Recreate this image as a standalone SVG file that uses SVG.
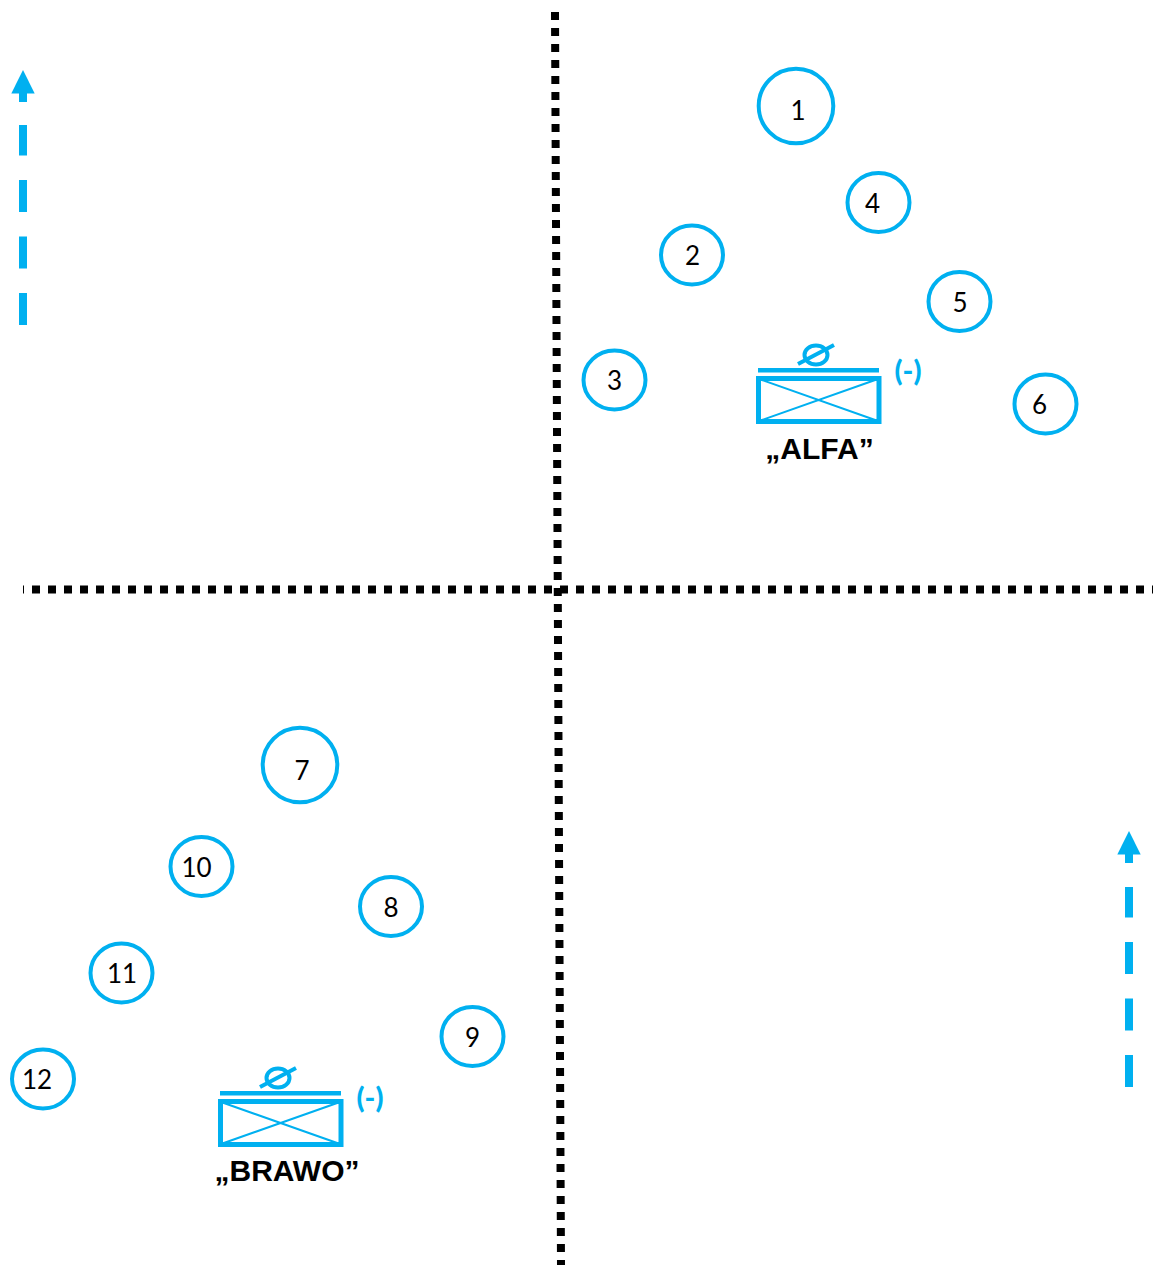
<svg xmlns="http://www.w3.org/2000/svg" width="1153" height="1265" viewBox="0 0 1153 1265">
<style>
.c{fill:#fff;stroke:#00b0f0;stroke-width:4}
.n{font-family:Lato,"Liberation Sans",sans-serif;font-size:26px;fill:#000;text-anchor:middle}
.d{fill:none;stroke:#000;stroke-width:8;stroke-dasharray:8 8}
.a{fill:none;stroke:#00b0f0;stroke-width:8;stroke-dasharray:32 24.5}
.h{fill:#00b0f0}
.s{fill:none;stroke:#00b0f0}
.m{font-family:Lato,"Liberation Sans",sans-serif;font-size:29px;font-weight:900;fill:#00b0f0}
.l{font-family:"Liberation Sans",Arial,sans-serif;font-size:30px;font-weight:700;fill:#000;text-anchor:middle}
</style>
<defs>
<g id="sym">
<rect class="s" x="758.5" y="378.5" width="120.5" height="43" stroke-width="5"/>
<path class="s" stroke-width="2" d="M759 379L878 421M878 379L759 421"/>
<path class="s" stroke-width="4.4" d="M758 370.2H879"/>
<ellipse class="s" stroke-width="4" cx="816" cy="355" rx="11.5" ry="9.5"/>
<path class="s" stroke-width="4" d="M798 364L834 345"/>
</g>
</defs>
<g id="connectors">
<path class="d" d="M555 12L561 1265"/>
<path class="d" stroke-dashoffset="7" d="M23 589.5H1153"/>
<g id="arrow-left">
<path class="a" d="M23 325V125M23 102V90"/>
<path class="h" d="M23 70L34.7 93.5H11.3Z"/>
</g>
<g id="arrow-right">
<path class="a" d="M1129 1087V887M1129 863V851"/>
<path class="h" d="M1129 831L1140.7 854.5H1117.3Z"/>
</g>
</g>
<g id="n1"><circle class="c" cx="796" cy="106" r="37.3"/><text class="n" x="798" y="119.5">1</text></g>
<g id="n2"><ellipse class="c" cx="692" cy="255" rx="31" ry="29.5"/><text class="n" x="692.5" y="264.5">2</text></g>
<g id="n3"><ellipse class="c" cx="614.5" cy="380" rx="31" ry="29.5"/><text class="n" x="614.5" y="389.5">3</text></g>
<g id="n4"><ellipse class="c" cx="878.5" cy="202.5" rx="31" ry="29.5"/><text class="n" x="872.5" y="212.5">4</text></g>
<g id="n5"><ellipse class="c" cx="959.5" cy="301.5" rx="31" ry="29.5"/><text class="n" x="960" y="311.5">5</text></g>
<g id="n6"><ellipse class="c" cx="1045.5" cy="404" rx="31" ry="29.5"/><text class="n" x="1039.5" y="413.5">6</text></g>
<g id="n7"><circle class="c" cx="300" cy="765" r="37.3"/><text class="n" x="302" y="779.5">7</text></g>
<g id="n8"><ellipse class="c" cx="391" cy="906.5" rx="31" ry="29.5"/><text class="n" x="391" y="916.5">8</text></g>
<g id="n9"><ellipse class="c" cx="472.5" cy="1036.5" rx="31" ry="29.5"/><text class="n" x="472.5" y="1046.5">9</text></g>
<g id="n10"><ellipse class="c" cx="201.5" cy="866.5" rx="31" ry="29.5"/><text class="n" x="196.5" y="876.5">10</text></g>
<g id="n11"><ellipse class="c" cx="121.5" cy="973" rx="31" ry="29.5"/><text class="n" x="122" y="982.5">11</text></g>
<g id="n12"><ellipse class="c" cx="43" cy="1079" rx="31" ry="29.5"/><text class="n" x="37" y="1088.5">12</text></g>
<g id="alfa"><use href="#sym"/><text class="m" x="894.5" y="381">(-)</text><text class="l" x="819.5" y="458.5">„ALFA”</text></g>
<g id="brawo"><use href="#sym" x="-538" y="723"/><text class="m" x="356.5" y="1108">(-)</text><text class="l" x="287" y="1180.5">„BRAWO”</text></g>
</svg>
